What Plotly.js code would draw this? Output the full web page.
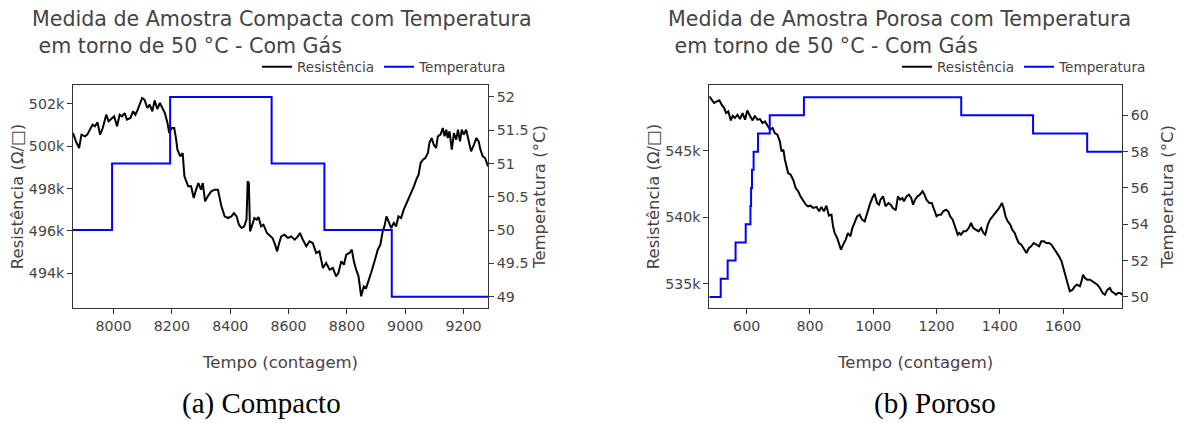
<!DOCTYPE html>
<html><head><meta charset="utf-8">
<script src="https://cdn.plot.ly/plotly-3.0.1.min.js"></script>
<style>html,body{margin:0;padding:0;background:#fff}#chart{width:1184px;height:423px}</style>
</head><body><div id="chart"></div>
<script>
// ---- (a) Compacto ----
const compX = [7861,7871,7882,7890,7902,7910,7919,7928,7936,7945,
7954,7963,7975,7983,7992,8002,8012,8021,8029,8038,
8046,8058,8067,8075,8083,8090,8098,8106,8116,8124,
8133,8141,8150,8159,8167,8176,8185,8191,8199,8208,
8214,8219,8229,8237,8243,8248,8256,8266,8275,8283,
8291,8300,8306,8314,8323,8335,8347,8358,8370,8381,
8393,8404,8413,8422,8430,8439,8448,8456,8460,8464,
8468,8474,8483,8491,8497,8506,8514,8526,8537,8545,
8554,8561,8568,
8575,8586,8598,8609,8621,8632,8639,8649,8661,8672,
8683,8695,8706,8718,8729,8741,8752,8763,8771,8781,
8790,8798,8809,8817,8824,8832,8840,8849,8858,8866,
8874,8883,8895,8906,8915,8923,8929,8936,8943,8952,
8961,8969,8977,8986,8995,9003,9011,9021,9030,9038,
9046,9053,9061,9069,9078,9083,9091,9098,9106,9112,
9121,9129,9135,9141,9146,9152,9160,9167,9175,9181,
9188,9194,9201,9209,9217,9226,9236,9244,9252,9258,
9266,9274,9284];
const compRes = [500617,500225,499911,500539,500460,500539,500775,501010,500932,501120,
500539,500853,501482,501167,501277,501403,500932,501482,501403,501560,
501246,501325,501639,501482,501717,501953,502267,502188,501796,501953,
501639,502157,501749,502031,501796,501560,501089,500617,500853,500853,
500382,499832,499518,499675,498575,498418,498104,498104,497554,497947,
498261,497947,498261,497397,497633,497868,497947,497947,497161,496690,
496611,496690,496847,496690,496297,496140,496219,496533,498340,498261,
495983,496219,496611,496533,496659,496219,496297,495904,495747,495669,
495355,495040,495433,
495747,495826,495669,495747,495590,495747,495904,495590,495276,495512,
495433,494962,495040,494255,494491,494176,494255,493862,494019,494569,
494412,494883,494962,495119,494569,494176,493862,492920,493389,493311,
493705,494019,494569,495119,495355,495983,496219,496690,496455,496140,
496376,496219,496690,496611,497004,497240,497554,497790,498104,498418,
498654,499204,499361,499439,499675,500146,500382,500068,499911,500460,
500539,500853,500460,500775,500382,500696,499832,500617,500303,500775,
500225,500775,500539,500775,500225,499754,500068,500382,500225,499832,
499518,499439,499047];
const compTempX = [7861, 7995, 8194, 8542, 8723, 8954, 9284];
const compTempY = [50, 51, 52, 51, 50, 49, 49];

// ---- (b) Poroso ----
const poroX = [482,490,497,506,514,521,529,535,542,550,
556,563,571,579,587,595,602,611,619,626,
634,642,650,658,665,674,682,689,697,705,
710,716,721,726,731,739,747,755,763,770,
779,787,794,802,810,821,829,836,844,852,
860,868,873,878,886,892,898,905,913,920,
928,934,941,949,957,965,973,980,989,997,
1004,1012,
1018,1023,1031,1039,1048,1055,1062,1071,1078,1085,
1092,1097,1105,1113,1120,1126,1132,1140,1147,1156,
1162,1168,1177,1185,1193,1200,1206,1214,1221,1230,
1237,1243,1251,1259,1267,1272,1277,1285,1293,1302,
1309,1316,1325,1333,1341,1348,1354,1362,1369,1378,
1386,1394,1401,1407,1412,1418,1425,1433,1439,1447,
1454,1460,1468,1475,1484,1492,1499,1507,1515,1524,
1531,1539,1547,1555,1563,1570,1579,1587,1595,1602,
1608,1616,1621,1630,1637,1644,1653,1658,1663,1669,
1676,1685,1693,1700,1708,1716,1725,1732,1740,1748,
1753,1761,1767,1774,1780,1786];
const poroRes = [549085,548835,548584,548709,548784,548458,548208,547832,547957,547280,
547631,547456,547706,547381,547832,547331,548032,547581,547280,547631,
547331,547381,547080,547205,546955,546579,546704,546328,546203,545702,
544950,545075,544323,543697,543321,543196,542820,542193,541943,541567,
541191,540940,540815,540865,540690,540765,540439,540765,540439,540865,
540113,540188,539311,538810,538434,538058,537557,537933,538309,538810,
538559,539186,539562,540063,540188,539812,539687,540314,540940,541441,
541767,541066,
540940,541316,541567,540815,541066,540940,540690,540514,541567,541316,
541441,541191,541567,541692,541441,540940,541316,541567,541692,541943,
541692,541316,541066,541066,540564,540063,540188,540188,540439,540564,
540439,540063,539813,539186,538685,538810,538685,538935,538935,539186,
539562,539186,539061,538935,539186,538810,538685,539437,539813,540063,
540314,540564,540815,541066,540690,540063,539687,539437,539061,538810,
538359,538058,537933,537683,537307,537683,537808,538058,537933,537808,
538184,538184,538058,538058,537933,537683,537307,537056,536680,536054,
535427,534675,534425,534550,534800,534926,534800,535177,535678,535427,
535302,535302,535177,535051,534926,534675,534299,534174,534550,534675,
534425,534299,534174,534299,534299,534174];
const poroTempX = [482, 518, 540, 565, 597, 612, 614, 617, 622, 636, 673, 781, 1278, 1505, 1676, 1786];
const poroTempY = [50, 51, 52, 53, 54, 55, 56, 57, 58, 59, 60, 61, 60, 59, 58, 58];

const titleA = 'Medida de Amostra Compacta com Temperatura<br> em torno de 50 °C - Com Gás';
const titleB = 'Medida de Amostra Porosa com Temperatura<br> em torno de 50 °C - Com Gás';
const captionA = '(a) Compacto';
const captionB = '(b) Poroso';
const xTitle = 'Tempo (contagem)';
const yResTitle = 'Resistência (Ω/□)';
const yTempTitle = 'Temperatura (°C)';

// ---- layout geometry ----
const W = 1184, H = 423, L = 73, R = 62, T = 85, B = 115;
const pw = W - L - R, ph = H - T - B;
const px2x = p => (p - L) / pw;
const py2y = p => (H - B - p) / ph;

const lineCol = '#333';
const axBase = {showline: true, linecolor: lineCol, linewidth: 1, ticks: 'outside', ticklen: 5,
  tickcolor: lineCol, showgrid: false, zeroline: false, tickfont: {size: 14.2}};
const titleFont = {size: 16.5};
const legFont = {size: 13.6};

const traces = [
  {x: compX, y: compRes, xaxis: 'x', yaxis: 'y', mode: 'lines', name: 'Resistência',
   line: {color: '#000', width: 2}, legend: 'legend'},
  {x: compTempX, y: compTempY, xaxis: 'x', yaxis: 'y2', mode: 'lines', name: 'Temperatura',
   line: {color: '#0000ff', width: 2, shape: 'hv'}, legend: 'legend'},
  {x: poroX, y: poroRes, xaxis: 'x2', yaxis: 'y3', mode: 'lines', name: 'Resistência',
   line: {color: '#000', width: 2}, legend: 'legend2'},
  {x: poroTempX, y: poroTempY, xaxis: 'x2', yaxis: 'y4', mode: 'lines', name: 'Temperatura',
   line: {color: '#0000ff', width: 2, shape: 'hv'}, legend: 'legend2'}
];

const layout = {
  width: W, height: H,
  margin: {l: L, r: R, t: T, b: B},
  paper_bgcolor: '#fff', plot_bgcolor: '#fff',
  font: {family: 'DejaVu Sans', color: '#444', size: 14},
  xaxis: Object.assign({}, axBase, {domain: [0, px2x(488)], anchor: 'y', mirror: true,
    range: [7861, 9284], dtick: 200, title: {text: xTitle, font: titleFont}}),
  yaxis: Object.assign({}, axBase, {domain: [0, 1], anchor: 'x', mirror: true,
    range: [492370, 502880], dtick: 2000, title: {text: yResTitle, font: titleFont}}),
  yaxis2: Object.assign({}, axBase, {overlaying: 'y', side: 'right', anchor: 'x',
    range: [48.83, 52.18], dtick: 0.5, title: {text: yTempTitle, font: titleFont}}),
  xaxis2: Object.assign({}, axBase, {domain: [px2x(709.3), 1], anchor: 'y3', mirror: true,
    range: [482, 1786], dtick: 200, title: {text: xTitle, font: titleFont}}),
  yaxis3: Object.assign({}, axBase, {domain: [0, 1], anchor: 'x2', mirror: true,
    range: [533170, 549940], dtick: 5000, title: {text: yResTitle, font: titleFont}}),
  yaxis4: Object.assign({}, axBase, {overlaying: 'y3', side: 'right', anchor: 'x2',
    range: [49.39, 61.67], dtick: 2, title: {text: yTempTitle, font: titleFont}}),
  legend: {orientation: 'h', x: px2x(512), xanchor: 'right', y: py2y(67), yanchor: 'middle',
    font: legFont, bgcolor: 'rgba(0,0,0,0)', itemwidth: 30},
  legend2: {orientation: 'h', x: px2x(1152), xanchor: 'right', y: py2y(67), yanchor: 'middle',
    font: legFont, bgcolor: 'rgba(0,0,0,0)', itemwidth: 30},
  showlegend: true,
  annotations: [
    {xref: 'paper', yref: 'paper', x: px2x(30), y: py2y(5), xanchor: 'left', yanchor: 'top',
     align: 'left', showarrow: false, text: titleA, font: {size: 20.6}},
    {xref: 'paper', yref: 'paper', x: px2x(666), y: py2y(5), xanchor: 'left', yanchor: 'top',
     align: 'left', showarrow: false, text: titleB, font: {size: 20.6}},
    {xref: 'paper', yref: 'paper', x: px2x(261), y: py2y(403), xanchor: 'center', yanchor: 'middle',
     showarrow: false, text: captionA, font: {family: 'Liberation Serif', size: 29, color: '#000'}},
    {xref: 'paper', yref: 'paper', x: px2x(935), y: py2y(403), xanchor: 'center', yanchor: 'middle',
     showarrow: false, text: captionB, font: {family: 'Liberation Serif', size: 29, color: '#000'}}
  ]
};

Plotly.newPlot('chart', traces, layout, {staticPlot: true, displayModeBar: false});
</script>
</body></html>
